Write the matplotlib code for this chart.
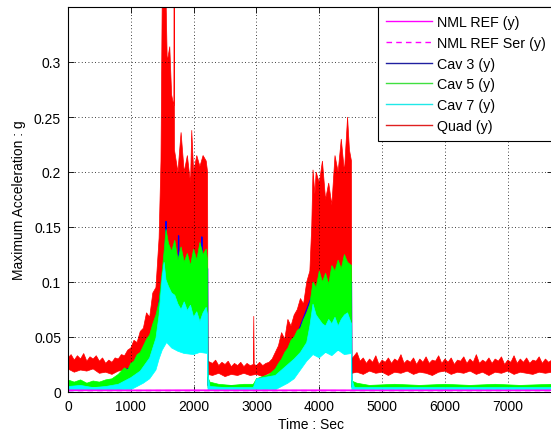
"""Maximum acceleration vs. time for the reference and cavitation channels."""
import matplotlib

matplotlib.use("Agg")
import matplotlib.pyplot as plt
from matplotlib.lines import Line2D

plt.rcParams["font.family"] = ["Liberation Sans", "DejaVu Sans"]

# --- data (sec, g) --------------------------------------------------------
# Quad (y): upper and lower envelopes of the dense red trace
quad_hi_t = [
    0, 50, 100, 150, 200, 250, 300, 350, 400, 450,
    500, 550, 600, 650, 700, 750, 800, 850, 900, 950,
    1000, 1050, 1100, 1150, 1200, 1250, 1300, 1350, 1400, 1450,
    1480, 1500, 1530, 1560, 1580, 1620, 1650, 1685, 1690, 1695,
    1750, 1800, 1850, 1900, 1950, 1970, 2000, 2050, 2100, 2150,
    2200, 2222, 2228, 2300, 2350, 2400, 2450, 2500, 2550, 2600,
    2650, 2700, 2750, 2800, 2850, 2900, 2950, 2957, 2964, 3000,
    3050, 3100, 3150, 3200, 3250, 3300, 3350, 3400, 3450, 3500,
    3550, 3600, 3650, 3700, 3750, 3800, 3850, 3880, 3900, 3930,
    3950, 4000, 4050, 4100, 4150, 4200, 4250, 4300, 4350, 4400,
    4450, 4480, 4512, 4518,
] + list(range(4600, 7701, 50))
quad_hi = [
    0.031, 0.034, 0.029, 0.033, 0.030, 0.035, 0.028, 0.032, 0.030, 0.033,
    0.028, 0.031, 0.026, 0.029, 0.027, 0.031, 0.030, 0.034, 0.033, 0.038,
    0.040, 0.047, 0.045, 0.055, 0.058, 0.072, 0.068, 0.090, 0.095, 0.140,
    0.210, 0.360, 0.360, 0.360, 0.300, 0.314, 0.270, 0.260, 0.360, 0.220,
    0.200, 0.236, 0.200, 0.215, 0.190, 0.238, 0.200, 0.215, 0.205, 0.215,
    0.210, 0.200, 0.028, 0.026, 0.029, 0.024, 0.027, 0.025, 0.028, 0.023,
    0.026, 0.024, 0.027, 0.023, 0.026, 0.024, 0.025, 0.069, 0.025, 0.024,
    0.027, 0.024, 0.026, 0.027, 0.030, 0.036, 0.042, 0.054, 0.048, 0.066,
    0.060, 0.070, 0.075, 0.085, 0.080, 0.100, 0.110, 0.151, 0.202, 0.180,
    0.200, 0.190, 0.210, 0.175, 0.190, 0.170, 0.215, 0.200, 0.230, 0.200,
    0.250, 0.220, 0.210, 0.030,
    0.036, 0.028, 0.031, 0.026, 0.030, 0.027, 0.033, 0.025, 0.029, 0.027,
    0.031, 0.026, 0.030, 0.028, 0.034, 0.026, 0.029, 0.027, 0.031, 0.025,
    0.030, 0.027, 0.032, 0.026, 0.029, 0.028, 0.033, 0.026, 0.030, 0.027,
    0.031, 0.025, 0.029, 0.028, 0.032, 0.026, 0.030, 0.027, 0.034, 0.026,
    0.029, 0.027, 0.031, 0.026, 0.030, 0.028, 0.032, 0.025, 0.029, 0.027,
    0.033, 0.026, 0.030, 0.027, 0.031, 0.026, 0.029, 0.028, 0.032, 0.026,
    0.030, 0.027, 0.029,
]
quad_lo_t = [
    0, 100, 200, 300, 400, 500, 600, 700, 800, 900,
    1000, 1100, 1200, 1300, 1400, 1500, 1600, 1800, 2000, 2222,
    2228, 2300, 2400, 2500, 2600, 2700, 2800, 2900, 3000, 3100,
    3200, 3300, 3400, 3500, 3600, 3700, 3800, 3900, 4000, 4512,
    4518,
] + list(range(4600, 7701, 100))
quad_lo = [
    0.021, 0.018, 0.020, 0.019, 0.021, 0.017, 0.018, 0.016, 0.019, 0.020,
    0.022, 0.025, 0.030, 0.040, 0.050, 0.070, 0.070, 0.060, 0.060, 0.060,
    0.016, 0.015, 0.017, 0.014, 0.016, 0.015, 0.017, 0.015, 0.016, 0.014,
    0.017, 0.018, 0.025, 0.030, 0.035, 0.040, 0.050, 0.055, 0.050, 0.050,
    0.017,
    0.018, 0.016, 0.019, 0.017, 0.018, 0.015, 0.018, 0.017, 0.019, 0.016,
    0.018, 0.017, 0.015, 0.018, 0.019, 0.016, 0.018, 0.017, 0.019, 0.016,
    0.018, 0.015, 0.018, 0.017, 0.019, 0.016, 0.018, 0.017, 0.016, 0.018,
    0.017, 0.018,
]

# Cav 5 (y)
cav5_hi_t = [
    0, 100, 200, 300, 400, 500, 600, 700, 800, 850, 900, 950,
    1000, 1050, 1100, 1150, 1200, 1250, 1300, 1350, 1400, 1450,
    1500, 1530, 1560, 1600, 1650, 1700, 1750, 1800, 1850, 1900, 1950,
    2000, 2050, 2100, 2150, 2200, 2222,
    2228, 2260, 2400, 2600, 2800, 2950, 3000, 3100, 3200, 3300,
    3350, 3400, 3450, 3500, 3550, 3600, 3650, 3700, 3750, 3800, 3850,
    3900, 3950, 4000, 4050, 4100, 4150, 4200, 4250, 4300, 4350, 4400, 4450,
    4512, 4518, 4600, 4800, 5200, 5600, 6000, 6400, 6800, 7200, 7700,
]
cav5_hi = [
    0.011, 0.009, 0.011, 0.008, 0.010, 0.009, 0.011, 0.012, 0.016, 0.019, 0.022, 0.020,
    0.026, 0.028, 0.034, 0.036, 0.042, 0.048, 0.052, 0.062, 0.070, 0.082,
    0.110, 0.128, 0.148, 0.135, 0.128, 0.138, 0.120, 0.132, 0.118, 0.126, 0.115,
    0.130, 0.120, 0.136, 0.125, 0.130, 0.120,
    0.013, 0.009, 0.007, 0.006, 0.007, 0.007, 0.012, 0.014, 0.016, 0.021,
    0.026, 0.030, 0.036, 0.040, 0.047, 0.050, 0.056, 0.058, 0.066, 0.072, 0.080,
    0.100, 0.095, 0.110, 0.100, 0.108, 0.098, 0.115, 0.110, 0.120, 0.112, 0.125, 0.118,
    0.115, 0.010, 0.008, 0.006, 0.007, 0.006, 0.007, 0.006, 0.007, 0.006, 0.007,
]
cav5_lo_t = [0, 1000, 1100, 1200, 1300, 1400, 1450, 1500, 1570, 1650, 1800, 2000, 2222,
             2228, 3300, 3500, 3600, 3700, 3800, 3900, 4000, 4200, 4400, 4512, 4518, 7700]
cav5_lo = [0.004, 0.005, 0.008, 0.011, 0.015, 0.023, 0.033, 0.041, 0.048, 0.043, 0.039, 0.038, 0.038,
           0.004, 0.004, 0.011, 0.015, 0.023, 0.033, 0.038, 0.035, 0.037, 0.039, 0.038, 0.004, 0.004]

# Cav 7 (y)
cav7_hi_t = [
    0, 200, 400, 600, 800, 900, 1000, 1100,
    1150, 1200, 1250, 1300, 1350, 1400, 1450, 1500, 1530, 1560,
    1600, 1650, 1700, 1750, 1800, 1850, 1900, 1950, 2000, 2050, 2100, 2150, 2200, 2222,
    2228, 2260, 2500, 2950, 3000, 3100, 3200, 3300, 3400, 3500, 3600, 3700, 3800,
    3850, 3900, 3950, 4000, 4050, 4100, 4150, 4200, 4250, 4300, 4350, 4400, 4450,
    4512, 4518, 4560, 7700,
]
cav7_hi = [
    0.005, 0.006, 0.004, 0.005, 0.007, 0.010, 0.013, 0.017,
    0.019, 0.023, 0.027, 0.031, 0.040, 0.049, 0.070, 0.105, 0.118, 0.102,
    0.096, 0.090, 0.088, 0.080, 0.075, 0.082, 0.074, 0.079, 0.068, 0.073, 0.064, 0.072, 0.077, 0.070,
    0.015, 0.005, 0.004, 0.004, 0.012, 0.013, 0.014, 0.015, 0.020, 0.025, 0.030, 0.036, 0.045,
    0.060, 0.080, 0.070, 0.066, 0.062, 0.060, 0.066, 0.062, 0.068, 0.060, 0.066, 0.070, 0.072,
    0.062, 0.012, 0.004, 0.004,
]
cav7_lo_t = [0, 1000, 1100, 1200, 1300, 1400, 1450, 1500, 1570, 1650, 1750, 1850, 2000, 2100, 2222,
             2228, 3300, 3400, 3500, 3600, 3700, 3800, 3900, 4000, 4100, 4200, 4300, 4400, 4512,
             4518, 7700]
cav7_lo = [0.001, 0.002, 0.005, 0.008, 0.012, 0.020, 0.030, 0.038, 0.045, 0.040, 0.037, 0.035, 0.034,
           0.036, 0.035, 0.002, 0.002, 0.005, 0.008, 0.012, 0.020, 0.028, 0.034, 0.031, 0.036, 0.033,
           0.038, 0.034, 0.035, 0.002, 0.002]

# Cav 3 (y): mostly hidden under Cav 5, only a few peaks poke out
cav3_t = [0, 800, 940, 1000, 1100, 1200, 1300, 1400, 1500, 1555, 1560, 1565, 1650, 1755,
          1760, 1765, 1900, 2125, 2130, 2135, 2222, 2228, 3000, 3300, 3600, 3900, 4200, 4512,
          4518, 7700]
cav3_hi = [0.006, 0.009, 0.021, 0.022, 0.030, 0.038, 0.048, 0.064, 0.100, 0.140, 0.155, 0.140,
           0.120, 0.115, 0.142, 0.115, 0.115, 0.120, 0.141, 0.120, 0.112, 0.006, 0.005, 0.012,
           0.045, 0.090, 0.100, 0.100, 0.005, 0.005]

# NML REF (y) and NML REF Ser (y): flat near zero
nml_t = [0, 1000, 2000, 3000, 4000, 5000, 6000, 7000, 7700]
nml_ref = [0.0016, 0.0015, 0.0016, 0.0015, 0.0016, 0.0015, 0.0016, 0.0015, 0.0016]
nml_ser = [0.0012, 0.0013, 0.0012, 0.0013, 0.0012, 0.0013, 0.0012, 0.0013, 0.0012]

labels = ["NML REF (y)", "NML REF Ser (y)", "Cav 3 (y)", "Cav 5 (y)", "Cav 7 (y)", "Quad (y)"]
colors = ["#ff00ff", "#ff00ff", "#0000ff", "#00ff00", "#00ffff", "#ff0000"]
x_ticks = [0, 1000, 2000, 3000, 4000, 5000, 6000, 7000]
y_ticks = [0, 0.05, 0.1, 0.15, 0.2, 0.25, 0.3]
y_tick_labels = ["0", "0.05", "0.1", "0.15", "0.2", "0.25", "0.3"]


def band(ax, t_hi, hi, t_lo, lo, color, z):
    """Fill the region between an upper and a lower envelope."""
    xs = list(t_hi) + list(t_lo)[::-1]
    ys = list(hi) + list(lo)[::-1]
    ax.fill(xs, ys, facecolor=color, edgecolor=color, lw=0.5, zorder=z)


def main():
    fig = plt.figure(figsize=(5.51, 4.31), dpi=100)
    ax = fig.add_axes([68 / 551, 38 / 431, 485 / 551, 385 / 431])

    band(ax, quad_hi_t, quad_hi, quad_lo_t, quad_lo, colors[5], 2)
    ax.plot(cav3_t, cav3_hi, color=colors[2], lw=0.9, zorder=2.5)
    band(ax, cav5_hi_t, cav5_hi, cav5_lo_t, cav5_lo, colors[3], 3)
    band(ax, cav7_hi_t, cav7_hi, cav7_lo_t, cav7_lo, colors[4], 4)
    ax.plot(nml_t, nml_ser, color=colors[1], lw=1.0, ls=(0, (4, 3)), zorder=5)
    ax.plot(nml_t, nml_ref, color=colors[0], lw=1.2, zorder=5)

    ax.set_xlim(0, 7720)
    ax.set_ylim(0, 0.35)
    ax.set_xticks(x_ticks)
    ax.set_xticklabels([str(v) for v in x_ticks])
    ax.set_yticks(y_ticks)
    ax.set_yticklabels(y_tick_labels)
    ax.tick_params(direction="in", length=4, width=0.6, labelsize=10, pad=5,
                   top=True, right=True, colors="black")
    ax.grid(True, color="black", ls=(0, (1, 3)), lw=0.6)
    ax.set_axisbelow(False)
    for side in ax.spines.values():
        side.set_linewidth(0.8)
        side.set_zorder(6)

    ax.set_xlabel("Time : Sec", fontsize=10, labelpad=3)
    ax.set_ylabel("Maximum Acceleration : g", fontsize=10, labelpad=6)

    handles = [
        Line2D([], [], color=colors[0], lw=1.0),
        Line2D([], [], color=colors[1], lw=1.0, ls=(0, (4, 3))),
        Line2D([], [], color="#2020a0", lw=1.0),
        Line2D([], [], color="#40e040", lw=1.0),
        Line2D([], [], color="#20e8e8", lw=1.0),
        Line2D([], [], color="#e02020", lw=1.0),
    ]
    # the legend box runs off the right edge of the picture, as in the original
    leg = ax.legend(handles, labels, loc="upper left", mode="expand",
                    bbox_to_anchor=(378 / 551, 1 - 8 / 431, 190 / 551, 0),
                    bbox_transform=fig.transFigure,
                    fontsize=10.3, handlelength=3.2, handletextpad=0.4, borderpad=0.55,
                    labelspacing=0.48, borderaxespad=0, fancybox=False, framealpha=1)
    leg.get_frame().set_edgecolor("black")
    leg.get_frame().set_linewidth(0.8)
    leg.set_zorder(10)

    fig.savefig("out.png", dpi=100)


if __name__ == "__main__":
    main()
